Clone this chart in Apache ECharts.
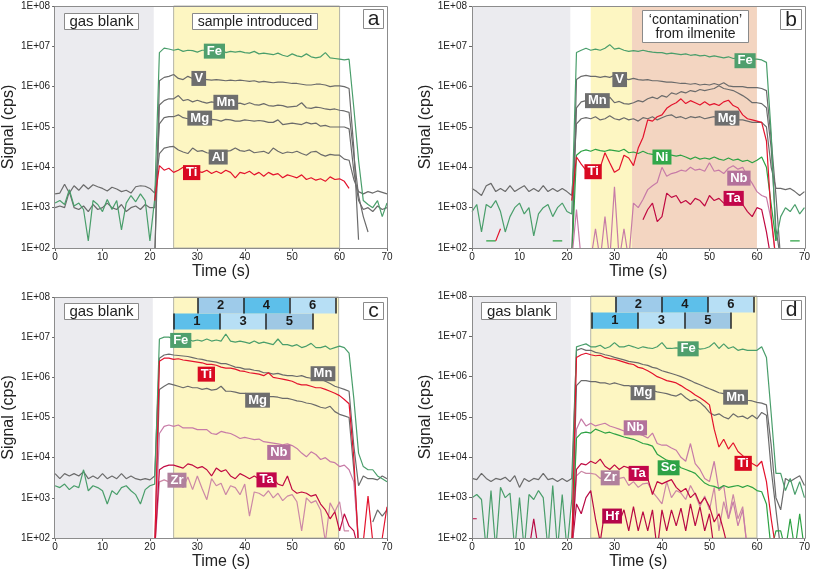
<!DOCTYPE html>
<html><head><meta charset="utf-8">
<script src="https://cdn.jsdelivr.net/npm/echarts@6/dist/echarts.min.js"></script>
<style>html,body{margin:0;padding:0;background:#fff}#c{width:813px;height:572px}</style>
</head><body><div id="c"></div>
<script>
const _ = null;
const times = [0,1,2,3,4,5,6,7,8,9,10,11,12,13,14,15,16,17,18,19,20,21,22,23,24,25,26,27,28,29,30,31,32,33,34,35,36,37,38,39,40,41,42,43,44,45,46,47,48,49,50,51,52,53,54,55,56,57,58,59,60,61,62,63,64,65,66,67,68,69,70];
const xTicks = [0,10,20,30,40,50,60,70];

// ---- panel a ----
const aFe = [1300,1500,1200,2800,1100,1300,900,150,1500,1200,
 800,1600,900,1500,280,1300,2000,1400,2200,1500,
 150,1600,7e6,9e6,8.6e6,8e6,8.5e6,7.5e6,8e6,7.8e6,
 7.2e6,8e6,8e6,8e6,8e6,9e6,7e6,7.5e6,7.2e6,7.5e6,
 7e6,6.8e6,7.5e6,6.5e6,6.8e6,6.5e6,6.2e6,6.8e6,6e6,5.6e6,
 6.5e6,5.8e6,5.5e6,6.5e6,5.5e6,5.2e6,5.5e6,7e6,5.2e6,5e6,
 4.8e6,4.6e6,4.8e6,3e5,1.5e4,1500,1200,1000,1500,600,
 1300];
const aV = [_,_,_,_,_,_,_,_,_,_,
 _,_,_,_,_,_,_,_,_,_,
 _,50,1.4e6,1.7e6,1.8e6,2e6,1.6e6,1.5e6,1.8e6,1.6e6,
 1.6e6,1.55e6,1.5e6,1.45e6,1.5e6,1.45e6,1.4e6,1.45e6,1.4e6,1.45e6,
 1.4e6,1.35e6,1.4e6,1.3e6,1.35e6,1.3e6,1.25e6,1.3e6,1.3e6,1.25e6,
 1.2e6,1.2e6,1.15e6,1.1e6,1.1e6,1.15e6,1.15e6,1.1e6,1e6,1.05e6,
 1.05e6,1e6,9e5,3e4,160,_,_,_,_,_,
 _];
const aMn = [_,_,_,_,_,_,_,_,_,_,
 _,_,_,_,_,_,_,_,_,_,
 _,50,3.5e5,4.5e5,5e5,5e5,6e5,4.5e5,4.8e5,4.2e5,
 4.6e5,4.2e5,3.9e5,4.2e5,4e5,4.1e5,4e5,3.9e5,3.8e5,3.9e5,
 3.6e5,4e5,3.6e5,3.5e5,3.8e5,3.4e5,3.3e5,3.5e5,3.4e5,3.1e5,
 3.2e5,3.3e5,4e5,3e5,2.9e5,3.1e5,3e5,2.8e5,2.7e5,2.8e5,
 2.6e5,2.5e5,2.3e5,2e4,2000,600,250,_,_,_,
 _];
const aMg = [1000,1100,1000,2500,1000,900,1100,800,1200,900,
 1000,1300,1000,900,1200,800,1000,1100,900,1200,
 1000,1000,1.2e5,1.7e5,1.8e5,1.8e5,2e5,1.7e5,1.6e5,1.7e5,
 1.6e5,1.6e5,1.5e5,1.55e5,1.5e5,1.4e5,1.55e5,1.5e5,1.4e5,1.4e5,
 1.5e5,1.45e5,1.4e5,1.45e5,1.4e5,1.3e5,1.3e5,1.5e5,1.15e5,1.2e5,
 1.25e5,1.2e5,1.15e5,1.3e5,1.2e5,1.25e5,1.05e5,1.1e5,1e5,1e5,
 1e5,1e5,9e4,8000,1500,900,1000,800,1100,900,
 1000];
const aAl = [2200,2300,3800,2300,3500,2700,3700,2900,3700,3300,
 3000,2600,3200,2900,2500,2700,2300,3300,3500,3400,
 3000,2300,2.2e4,3e4,3.2e4,3.3e4,2.7e4,2.4e4,2.2e4,3e4,
 2.5e4,2.6e4,2.3e4,2.2e4,2.2e4,2.3e4,2.5e4,2.6e4,3e4,2.6e4,
 2.5e4,2.7e4,2.3e4,2.4e4,2.5e4,2.2e4,3e4,2.5e4,2.2e4,2.4e4,
 2.3e4,2.5e4,2.2e4,2e4,2.4e4,2.5e4,2.1e4,1.9e4,2.1e4,2e4,
 2e4,1.6e4,1.5e4,5000,2500,2200,2500,2300,2600,2400,
 2200];
const aTi = [_,_,_,_,_,_,_,_,_,_,
 _,_,_,_,_,_,_,_,_,_,
 _,1500,1.1e4,8500,9500,7500,8500,1e4,8500,7500,
 8000,7500,8500,7000,8000,7000,8500,7500,5500,7500,
 7000,8000,6500,7500,6000,7500,6500,7000,5500,6500,
 6000,5500,6500,5000,5500,4800,5200,4500,5800,5000,
 5200,4500,3000,_,_,_,_,_,_,_,
 _];

// ---- panel b ----
const bFe = [800,1200,250,1200,1000,1500,800,250,600,1000,
 1300,700,1000,200,700,1000,1200,600,1000,1300,
 800,700,7e6,8e6,9e6,8e6,8.5e6,8e6,9e6,1.1e7,
 8.5e6,9e6,8e6,7.5e6,7.8e6,7.5e6,8e6,7.5e6,7.2e6,7e6,
 7e6,6.5e6,6.8e6,6.5e6,6.2e6,6.5e6,6e6,6.2e6,5.8e6,6e6,
 5.5e6,5.8e6,5.5e6,5.2e6,5.5e6,5e6,5.2e6,5e6,4.8e6,4.8e6,
 4.8e6,4.6e6,4e6,7e4,150,600,1000,800,1200,700,
 1000];
const bV = [_,_,_,_,_,_,_,_,_,_,
 _,_,_,_,_,_,_,_,_,_,
 _,50,1.5e6,1.8e6,1.9e6,1.8e6,1.8e6,1.7e6,1.8e6,1.7e6,
 1.9e6,1.6e6,1.6e6,1.5e6,1.6e6,1.5e6,1.45e6,1.5e6,1.4e6,1.4e6,
 1.35e6,1.3e6,1.3e6,1.25e6,1.2e6,1.2e6,1.15e6,1.2e6,1.1e6,1.15e6,
 1.1e6,1.2e6,1.1e6,1.25e6,1.05e6,1e6,1e6,1e6,9.5e5,9.5e5,
 9.5e5,9e5,8e5,5e4,2000,50,_,_,_,_,
 _];
const bMn = [_,_,_,_,_,_,_,_,_,_,
 _,_,_,_,_,_,_,_,_,_,
 _,50,3e5,4.2e5,4.5e5,4.3e5,4.5e5,4.2e5,4e5,5.5e5,
 4e5,4.3e5,3.8e5,3.7e5,4e5,4.5e5,4.2e5,5e5,5.5e5,5e5,
 6e5,5.5e5,7e5,6.5e5,7.5e5,7e5,8e5,7.5e5,8.5e5,8e5,
 8.5e5,9e5,1.05e6,9e5,8.5e5,8e5,7e5,6e5,5e5,4e5,
 4e5,3.8e5,3e5,3e4,300,50,_,_,_,_,
 _];
const bMg = [3000,2500,2000,3500,4000,2500,3000,2500,3500,2500,
 3000,3500,2500,3000,2500,3500,2500,3000,2500,3000,
 2500,2000,1.2e5,1.6e5,1.7e5,1.6e5,1.8e5,1.5e5,1.6e5,1.9e5,
 1.6e5,1.5e5,1.7e5,1.5e5,1.6e5,1.4e5,1.7e5,1.6e5,1.8e5,1.5e5,
 1.7e5,1.9e5,2e5,1.7e5,1.8e5,1.6e5,1.8e5,1.7e5,1.8e5,1.6e5,
 1.7e5,1.8e5,1.6e5,1.7e5,1.5e5,1.5e5,1.5e5,1.5e5,1.4e5,1.3e5,
 1.3e5,1.3e5,1e5,1e4,3000,3000,2800,3000,2500,2000,
 2500];
const bNi = [_,_,_,150,150,150,_,_,_,_,
 _,_,_,_,_,_,_,150,150,150,
 _,50,2e4,2.5e4,2.7e4,2.5e4,2.8e4,2.6e4,2.5e4,2.7e4,
 2.6e4,2.5e4,2.8e4,2.3e4,2.4e4,2.2e4,2.5e4,2.2e4,2.1e4,2e4,
 2e4,2.1e4,2e4,1.9e4,2e4,1.8e4,1.6e4,1.8e4,1.6e4,1.7e4,
 1.6e4,1.8e4,1.6e4,1.5e4,1.7e4,1.5e4,1.6e4,1.4e4,1.5e4,1.3e4,
 1.5e4,1.8e4,1e4,1200,150,_,_,150,150,150,
 _];
const bTi = [_,_,_,_,_,150,300,_,_,_,
 _,_,_,_,_,_,_,_,_,_,
 _,1500,1.8e4,1.2e4,8500,9000,1.1e4,1e4,2.3e4,1.3e4,
 7500,9000,2e4,1.7e4,1.1e4,3e4,5.5e4,1.5e5,1.4e5,1.8e5,
 2e5,2.9e5,3.5e5,4e5,5e5,3.8e5,4.5e5,4e5,3.5e5,4.2e5,
 3.5e5,3.8e5,3.4e5,4.2e5,4.6e5,3.4e5,3e5,2e5,1.6e5,1.5e5,
 1.4e5,1.3e5,4.5e4,600,50,_,_,_,_,_,
 _];
const bNb = [_,_,_,_,_,_,_,_,_,_,
 _,_,_,_,_,_,_,_,_,_,
 _,50,900,50,_,50,300,50,600,50,
 3300,50,300,50,1300,1000,1600,2800,3500,4200,
 1e4,6000,7000,7500,8500,8000,1e4,8500,9000,8000,
 1.3e4,8000,8500,7000,9500,1.1e4,9000,1e4,6000,4000,
 2500,2000,1800,500,50,_,_,_,_,_,
 _];
const bTa = [_,_,_,_,_,_,_,_,_,_,
 _,_,_,_,_,_,_,_,_,_,
 _,_,_,_,_,_,_,_,_,_,
 _,_,_,_,_,_,500,900,1300,450,
 600,2300,1800,2000,1300,1500,1200,1700,1500,1100,
 2000,1500,1700,1300,1400,1500,1500,1200,800,600,
 1000,900,250,50,_,_,_,_,_,_,
 _];

// ---- panel c ----
const cFe = [2000,1800,2200,1600,2000,1800,5000,1500,2000,1800,
 1500,700,1500,1200,1800,2000,1500,1200,700,1600,
 2000,2200,9e6,1e7,1e7,9e6,9e6,8.5e6,9e6,8e6,
 8.5e6,8e6,9e6,8e6,8.5e6,8e6,1.2e7,8e6,7.5e6,8e6,
 7.5e6,7e6,8e6,7e6,7.5e6,7e6,6.5e6,9e6,6.5e6,6.5e6,
 6e6,6.5e6,5.5e6,6e6,7e6,5.5e6,5.5e6,6e6,5e6,5.5e6,
 6e6,5.5e6,4e6,3e5,1.3e4,6000,5000,5000,3500,3000,
 2500];
const cMn = [4000,3000,4000,3500,4000,3500,4500,3000,3500,3000,
 4000,3000,3500,3000,4000,3000,3500,3000,2800,3000,
 2800,3500,3e6,3.6e6,3.8e6,3.6e6,3.5e6,3.4e6,3.3e6,3.1e6,
 2.9e6,2.8e6,2.6e6,2.5e6,2.4e6,2.2e6,2.2e6,2e6,1.8e6,1.75e6,
 1.6e6,1.6e6,1.5e6,1.45e6,1.3e6,1.3e6,1.2e6,1.25e6,1.15e6,1.1e6,
 1.1e6,1.05e6,1.1e6,1e6,9.5e5,1e6,9e5,8e5,7e5,6e5,
 5.5e5,5e5,4.5e5,2e4,2000,3500,3000,3000,2800,3500,
 3000];
const cTi = [_,_,_,_,_,_,_,_,_,_,
 _,_,_,_,_,_,_,_,_,_,
 _,50,2.5e6,3e6,3e6,2.8e6,2.9e6,2.7e6,2.6e6,2.5e6,
 2.4e6,2.3e6,2.1e6,2.1e6,2e6,1.8e6,1.7e6,1.7e6,1.6e6,1.45e6,
 1.4e6,1.3e6,1.25e6,1.2e6,1.1e6,1.3e6,1e6,9.5e5,9e5,8.5e5,
 8e5,7e5,6.5e5,6.5e5,6e5,5.5e5,5.5e5,5e5,4.5e5,4e5,
 3.5e5,2.8e5,2.2e5,1e4,50,80,1100,80,_,100,
 600];
const cMg = [_,_,_,_,_,_,_,_,_,_,
 _,_,_,_,_,_,_,_,_,_,
 _,50,5e5,6e5,7e5,6.5e5,6e5,5.5e5,6e5,5.5e5,
 5.5e5,5e5,5.3e5,4.8e5,5e5,6e5,4.5e5,4.5e5,4.3e5,4e5,
 4e5,3.8e5,3.7e5,3.5e5,3.4e5,3.3e5,3.3e5,3.2e5,3e5,3e5,
 2.8e5,2.6e5,2.5e5,2.3e5,2.2e5,2e5,1.8e5,1.7e5,1.9e5,1.4e5,
 1.2e5,1.1e5,1e5,5000,80,_,_,250,500,350,
 500];
const cNb = [_,_,_,_,_,_,_,_,_,_,
 _,_,_,_,_,_,_,_,_,_,
 _,50,4e4,6e4,6.5e4,6e4,6.5e4,5.5e4,5.5e4,5.5e4,
 5e4,5e4,5e4,4e4,3.8e4,4.5e4,4.2e4,4e4,3.5e4,3e4,
 3.2e4,3e4,2.8e4,2.9e4,2.5e4,2.4e4,2.3e4,2.2e4,2.1e4,2.2e4,
 2e4,1.7e4,1.3e4,1.05e4,1.4e4,1.2e4,9000,1e4,8000,7500,
 6000,6500,5000,2500,80,_,_,_,_,_,
 _];
const cTa = [_,_,_,_,_,_,_,_,_,_,
 _,_,_,_,_,_,_,_,_,_,
 _,50,5000,6000,6500,6500,6000,5500,7000,6500,
 5500,6000,5000,3500,5500,4500,5000,3500,3000,4000,
 3500,3000,3500,3000,3500,2800,3000,2200,2000,3500,
 1600,1300,1400,1300,1100,1200,700,500,300,450,
 150,400,200,150,50,_,_,_,_,_,
 _];
const cZr = [_,_,_,_,_,_,_,_,_,_,
 _,_,_,_,_,_,_,_,_,_,
 _,50,2500,2800,2500,2500,2500,1800,3300,1600,
 3500,1700,900,3000,2000,2300,1200,2000,1800,1200,
 2200,350,1400,1300,1100,1500,1000,1300,850,1100,
 1200,800,150,1000,750,850,500,80,750,450,
 800,150,150,_,_,_,_,_,_,_,
 _];

// ---- panel d ----
const dFe = [1000,1200,900,50,1500,50,1800,1000,1300,50,
 1000,50,1200,900,1500,1000,50,2000,50,1200,
 50,900,5.5e6,6e6,6.5e6,5.5e6,5.5e6,6e6,5e6,5.5e6,
 7e6,5.5e6,5.5e6,6e6,5.5e6,5e6,5.5e6,5.2e6,5e6,5.5e6,
 7e6,5e6,5e6,5.2e6,5e6,5e6,5e6,5.5e6,4.8e6,5e6,
 5.5e6,7e6,5e6,6.5e6,5e6,5.5e6,4.5e6,4.8e6,4.5e6,4.5e6,
 4.5e6,5.5e6,3e6,1.2e5,4000,4000,1500,3000,1200,2500,
 1000];
const dMn = [3000,2800,4000,3000,2500,3000,2800,3200,2500,3500,
 1800,3000,2500,3000,2800,4000,2800,3000,2500,3000,
 2500,3000,4.5e6,5e6,4.5e6,4.5e6,4e6,3.8e6,3.5e6,3.3e6,
 3e6,2.8e6,2.6e6,2.4e6,2.3e6,2.2e6,2e6,1.9e6,1.7e6,1.6e6,
 1.4e6,1.3e6,1.2e6,1.1e6,1e6,9e5,8e5,7e5,6.3e5,5.6e5,
 5e5,4.5e5,4e5,3.8e5,3.5e5,3.2e5,2.9e5,2.8e5,2.6e5,2.5e5,
 2.3e5,2.2e5,2e5,2e4,1000,500,3000,2500,3000,3500,
 2000];
const dTi = [_,_,_,_,_,_,_,_,_,_,
 _,_,_,_,_,_,_,_,_,_,
 _,50,3e6,3.5e6,3.8e6,3.5e6,3.3e6,3.4e6,3e6,2.8e6,
 2.7e6,2.5e6,2.3e6,2.1e6,2e6,1.7e6,1.6e6,1.4e6,1.2e6,1e6,
 9e5,8e5,7.5e5,7e5,6e5,5e5,4.3e5,3.5e5,3e5,2.5e5,
 2e5,5e4,1.8e4,2.8e4,1.6e4,2.3e4,1.4e4,1.1e4,9000,7000,
 6000,8000,2500,300,50,_,_,_,_,_,
 _];
const dMg = [_,_,_,_,_,_,_,_,_,_,
 _,_,_,_,_,_,_,_,_,_,
 _,50,6e5,8e5,8e5,7.5e5,7.5e5,7e5,7e5,6.5e5,
 7e5,6.5e5,6e5,6e5,5.5e5,5e5,5e5,5e5,4.5e5,4.2e5,
 4e5,3.8e5,3.5e5,3.3e5,3.8e5,3e5,2.5e5,2.7e5,2.3e5,1.8e5,
 1.3e5,1.1e5,1.2e5,1e5,9e4,1.2e5,1e5,1.05e5,9e4,1.1e5,
 9e4,1.3e5,1.1e5,5000,500,50,_,_,_,_,
 _];
const dNb = [_,_,_,_,_,_,_,_,_,_,
 _,_,_,_,_,_,_,_,_,_,
 _,50,5e4,9e4,6e4,7e4,6e4,6.5e4,7e4,6e4,
 5.5e4,5e4,4.5e4,4.5e4,4e4,3.8e4,3.5e4,3e4,4e4,2.2e4,
 2e4,2e4,1.7e4,1.5e4,1e4,8000,2.2e4,7000,5000,3000,
 2500,8000,1500,2000,300,800,200,500,50,_,
 _,_,_,_,_,_,_,_,_,_,
 _];
const dSc = [_,_,_,_,_,_,_,_,_,_,
 _,_,_,_,_,_,_,_,_,_,
 _,50,3e4,4e4,4.2e4,4e4,5e4,4.5e4,4e4,4.2e4,
 3.8e4,3.5e4,3.2e4,3e4,2.8e4,2.5e4,2.2e4,2.1e4,1.9e4,1.2e4,
 1e4,8500,8000,7000,5500,5000,4500,4000,3000,2300,
 2000,1900,1700,2000,1800,1900,2000,1800,2000,1800,
 1500,1400,700,50,150,150,50,300,50,400,
 50];
const dZr = [_,_,_,_,_,_,_,_,_,_,
 _,_,_,_,_,_,_,_,_,_,
 _,50,3500,4500,4000,4000,3800,3000,3500,3000,
 3200,3000,3200,2000,2500,1800,2200,2300,1400,1000,
 700,2500,1000,1500,1300,900,2000,1200,600,1100,
 500,1800,150,800,300,1200,300,600,50,_,
 _,_,_,_,_,_,_,_,_,_,
 _];
const dTa = [_,_,_,_,_,_,_,_,_,_,
 _,_,_,_,_,_,_,_,_,_,
 _,50,5000,7000,6500,8000,7000,9000,6000,5000,
 6500,5000,6000,5500,5000,4500,4000,3000,1200,2500,
 2200,2500,2800,1800,1400,1700,1000,1300,700,1000,
 600,250,400,150,50,_,_,_,_,_,
 _,_,_,_,_,_,_,_,_,_,
 _];
const dHf = [300,300,_,_,_,_,_,_,_,_,
 _,_,50,300,50,_,_,_,_,_,
 _,50,700,400,1000,1500,300,80,500,300,
 300,250,500,150,600,150,450,150,500,50,
 500,150,500,200,550,150,700,200,600,150,
 400,50,_,_,_,_,_,_,_,_,
 _,_,_,_,_,_,_,_,_,_,
 _];

// ---- labels: [element, time, signal] ----
const labelsA = [['Fe',33.6,7.6e6],['V',30.3,1.6e6],['Mn',36,4.1e5],['Mg',30.5,1.66e5],['Al',34.4,1.8e4],['Ti',28.8,7400]];
const labelsB = [['Fe',57.5,4.4e6],['V',31.1,1.5e6],['Mn',26.4,4.5e5],['Mg',53.7,1.66e5],['Ni',40,1.8e4],['Ti',25.5,7800],['Nb',56.2,5400],['Ta',55.1,1700]];
const labelsC = [['Fe',26.5,8.3e6],['Ti',31.9,1.2e6],['Mn',56.5,1.23e6],['Mg',42.7,2.7e5],['Nb',47.2,1.35e4],['Zr',25.7,2750],['Ta',44.6,2800]];
const labelsD = [['Fe',45.5,4.9e6],['Mg',36,4e5],['Mn',55.5,3.1e5],['Nb',34.4,5.4e4],['Sc',41.4,5500],['Ti',57.1,7100],['Zr',29.1,3100],['Ta',35.1,4000],['Hf',29.5,350]];

// ---- shaded time windows ----
const regionsA = [['blank',0,20.8],['yellow',25,60]];
const regionsB = [['blank',0,20.7],['yellow',25,33.7],['salmon',33.7,60]];
const regionsC = [['blank',0,20.6],['yellow',25,59.8]];
const regionsD = [['blank',0,20.8],['yellow',25,60]];

// ---- integration segments: [name, start, end, row] ----
const segmentsC = [['1',25,34.8,0],['3',34.8,44.5,0],['5',44.5,54.3,0],['2',30.1,39.7,1],['4',39.7,49.4,1],['6',49.4,59.2,1]];
const segmentsD = [['1',25.2,35,0],['3',35,44.8,0],['5',44.8,54.5,0],['2',30.2,39.9,1],['4',39.9,49.7,1],['6',49.7,59.3,1]];

const F = "'Liberation Sans', Arial, sans-serif";
const lineColor = {Fe:'#4a9e6b',V:'#6b6b6b',Mn:'#6b6b6b',Mg:'#6b6b6b',Al:'#6b6b6b',Ti:'#e3132d',Ni:'#2ea244',Sc:'#2ea244',Nb:'#c77ba7',Zr:'#cc88a6',Ta:'#c00a42',Hf:'#b80a44'};
const boxColor = {Fe:'#4f9f6d',V:'#6e6e6e',Mn:'#6e6e6e',Mg:'#6e6e6e',Al:'#6e6e6e',Ti:'#d90a22',Ni:'#32a84a',Sc:'#2ea246',Nb:'#b3719b',Zr:'#b0809c',Ta:'#c2064a',Hf:'#b5064a'};
const regionColor = {blank:'#ebebef', yellow:'#fdf6c2', salmon:'#f3d5c1'};
const segColor = {'1':'#5dbfea','2':'#9ecbea','3':'#b7dff5','4':'#5dbfea','5':'#9fc8e4','6':'#b7dff5'};

const panels = [
 {series:[['Al',aAl],['Mg',aMg],['Mn',aMn],['V',aV],['Fe',aFe],['Ti',aTi]], labels:labelsA, regions:regionsA, border:true, segs:null},
 {series:[['Mg',bMg],['Mn',bMn],['V',bV],['Fe',bFe],['Ni',bNi],['Nb',bNb],['Ta',bTa],['Ti',bTi]], labels:labelsB, regions:regionsB, border:false, segs:null},
 {series:[['Mn',cMn],['Mg',cMg],['Fe',cFe],['Zr',cZr],['Nb',cNb],['Ta',cTa],['Ti',cTi]], labels:labelsC, regions:regionsC, border:true, segs:segmentsC},
 {series:[['Mn',dMn],['Mg',dMg],['Fe',dFe],['Hf',dHf],['Zr',dZr],['Nb',dNb],['Sc',dSc],['Ta',dTa],['Ti',dTi]], labels:labelsD, regions:regionsD, border:true, segs:segmentsD}
];
panels.forEach((p,pi)=>p.series.forEach(s=>{ if(s[1].length!==times.length) throw new Error('bad length panel '+pi+' '+s[0]+' '+s[1].length); }));

const grids = [
 {left:54, top:6, width:333, height:242},
 {left:472, top:6, width:333, height:242},
 {left:54, top:297, width:333, height:241},
 {left:472, top:296, width:333, height:242}
];
const rowY = [[3.9e7,1.55e7],[1e8,3.9e7]];

const series = [];
panels.forEach((p,pi)=>{
  series.push({type:'line', xAxisIndex:pi, yAxisIndex:pi, data:[], z:1, silent:true,
    markArea:{silent:true, data:p.regions.map(r=>[
      {xAxis:r[1], itemStyle:{color:regionColor[r[0]], borderColor:(p.border&&r[0]==='yellow')?'#b4b4a8':'transparent', borderWidth:1}},
      {xAxis:r[2]}])}});
  p.series.forEach(s=>{
    series.push({type:'line', name:s[0], xAxisIndex:pi, yAxisIndex:pi, z:3, showSymbol:false, symbol:'none', silent:true,
      animation:false, clip:true, connectNulls:false,
      lineStyle:{color:lineColor[s[0]], width:1.2}, itemStyle:{color:lineColor[s[0]]},
      data:times.map((t,i)=>[t, s[1][i]==null?'-':s[1][i]])});
  });
  if(p.segs){
    const lines = [];
    [0,1].forEach(row=>{
      const rs = p.segs.filter(s=>s[3]===row);
      const y = rowY[row];
      rs.forEach(s=>lines.push([{coord:[s[1],y[0]]},{coord:[s[1],y[1]]}]));
      const last = rs[rs.length-1];
      lines.push([{coord:[last[2],y[0]]},{coord:[last[2],y[1]]}]);
    });
    series.push({type:'line', xAxisIndex:pi, yAxisIndex:pi, data:[], z:5, silent:true,
      markArea:{silent:true, data:p.segs.map(sg=>{const y=rowY[sg[3]]; return [
        {name:sg[0], xAxis:sg[1], yAxis:y[1], itemStyle:{color:segColor[sg[0]]},
         label:{show:true, position:'inside', formatter:'{b}', color:'#1a1a1a', fontWeight:'bold', fontSize:13, fontFamily:F}},
        {xAxis:sg[2], yAxis:y[0]}];})},
      markLine:{silent:true, symbol:['none','none'], label:{show:false}, lineStyle:{color:'#222', width:1.5, type:'solid'}, data:lines}
    });
  }
  series.push({type:'scatter', xAxisIndex:pi, yAxisIndex:pi, z:10, silent:true, symbolSize:1,
    itemStyle:{color:'rgba(0,0,0,0)', opacity:1},
    data:p.labels.map(l=>({name:l[0], value:[l[1],l[2]], label:{backgroundColor:boxColor[l[0]]}})),
    label:{show:true, position:'inside', formatter:'{b}', color:'#fff', opacity:1, fontWeight:'bold', fontSize:13, lineHeight:14, padding:[1,3,0,3], fontFamily:F}});
});

const graphic = [];
function box(x,y,w,h,text,font){
  graphic.push({type:'rect', z:100, shape:{x:x+0.5,y:y+0.5,width:w,height:h}, style:{fill:'#fff', stroke:'#8a8a8a', lineWidth:1}});
  graphic.push({type:'text', z:101, x:x+w/2+0.5, y:y+h/2+1, style:{text:text, font:font, fill:'#222', align:'center', verticalAlign:'middle'}});
}
box(64,13,74,16,'gas blank','15px '+F);
box(192,13,125,16,'sample introduced','14px '+F);
box(363,9,20,19,'a','21px '+F);
box(642,10,106,32,'\u2018contamination\u2019\nfrom ilmenite','14px '+F);
box(780,9,21,20,'b','21px '+F);
box(64,303,74,16,'gas blank','15px '+F);
box(363,302,20,17,'c','21px '+F);
box(481,302,75,17,'gas blank','15px '+F);
box(781,300,20,19,'d','21px '+F);
grids.forEach(g=>graphic.push({type:'rect', z:99, silent:true, shape:{x:g.left+0.5,y:g.top+0.5,width:g.width,height:g.height}, style:{fill:'none', stroke:'#8c8c8c', lineWidth:1}}));

const option = {
  animation:false,
  backgroundColor:'#fff',
  grid: grids,
  xAxis: grids.map((g,i)=>({type:'value', gridIndex:i, min:xTicks[0], max:xTicks[xTicks.length-1], interval:10,
    name:'Time (s)', nameLocation:'middle', nameGap:16, nameTextStyle:{fontSize:16, color:'#222', fontFamily:F},
    axisLine:{show:false}, axisTick:{show:true, length:3, lineStyle:{color:'#666'}},
    axisLabel:{fontSize:10, color:'#222', margin:4, fontFamily:F}, splitLine:{show:false}})),
  yAxis: grids.map((g,i)=>({type:'log', logBase:10, gridIndex:i, min:100, max:1e8, splitNumber:6,
    name:'Signal (cps)', nameLocation:'middle', nameGap:36, nameRotate:90, nameTextStyle:{fontSize:16, color:'#222', fontFamily:F},
    axisLine:{show:false}, axisTick:{show:true, length:3, lineStyle:{color:'#666'}},
    axisLabel:{fontSize:10, color:'#222', margin:5, fontFamily:F, showMinLabel:true, showMaxLabel:true,
      formatter:v=>'1E+'+String(Math.round(Math.log10(v))).padStart(2,'0')},
    splitLine:{show:false}})),
  series: series,
  graphic: graphic
};
const chart = echarts.init(document.getElementById('c'));
chart.setOption(option);
</script></body></html>
